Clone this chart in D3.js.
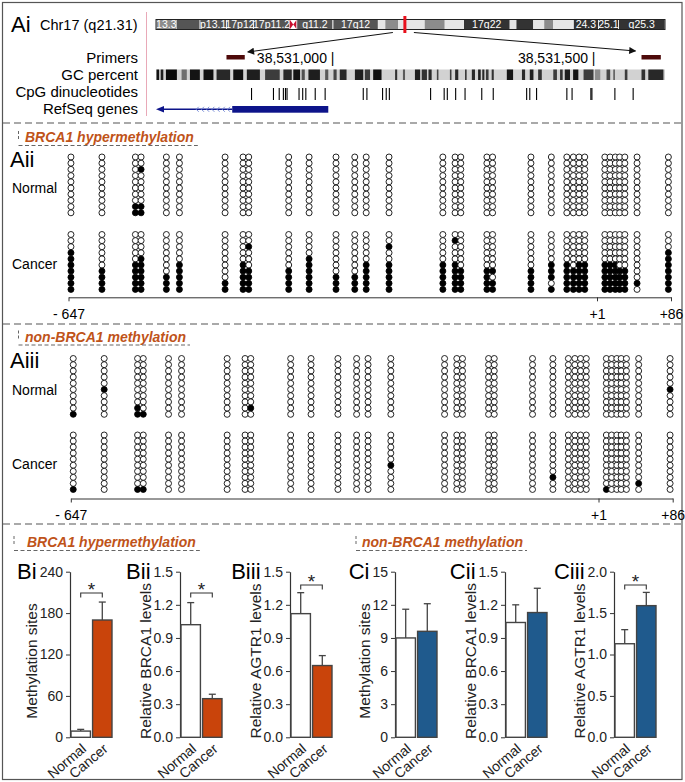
<!DOCTYPE html>
<html><head><meta charset="utf-8">
<script src="https://cdn.jsdelivr.net/npm/d3@7"></script>
<style>
html,body{margin:0;padding:0;background:#fff;}
svg{display:block;}
</style></head>
<body><svg id="chart" width="685" height="782"></svg>
<script>
// ---------------- data ----------------
// Chromosome 17 ideogram (Mb)
const chrBandStarts=[0,3.2,6.8,10.9,15.1,20.7,21.8,27.4,34.4,35.5,37.5,41.6,44.7,47.6,54.8,55.8,58.4,60.1,61.5,64.6,68.5,71.6];
const chrLength=78.8;
const chrBandNames=["13.3","","p13.1","17p12","17p11.2","","q11.2","17q12","","","","","","17q22","","","","","","24.3","25.1","q25.3"];
const chrBandStains=["gpos50","gpos75","gpos75","gpos75","gpos75","acen","gpos75","gpos75","gneg","gpos50","gneg","gpos50","gneg","gpos100","gneg","gpos100","gneg","gpos50","gneg","gpos100","gpos100","gpos100"];
const brca1Mb=38.53;
// Browser tracks: bp offsets from chr17:38,530,000
const trackDomain=[661,1636];
const trackRefs=[1000,1500];
const trackRefLabels=["38,531,000 |","38,531,500 |"];
const primerStarts=[796,1591];
const primerEnds=[831,1628];
const gcStarts=[662,670,680,710,726,752,777,809,835,870,905,924,940,953,985,1001,1013,1042,1061,1077,1119,1134,1157,1170,1183,1199,1224,1234,1253,1266,1278,1286,1293,1304,1333,1362,1377,1393,1422,1435,1444,1460,1480,1502,1524,1537,1559,1591,1604];
const gcEnds=[667,675,701,720,745,771,803,828,860,898,921,937,946,975,991,1007,1026,1058,1071,1093,1123,1138,1167,1180,1189,1202,1227,1240,1256,1272,1283,1290,1298,1308,1345,1368,1384,1400,1429,1440,1454,1470,1499,1512,1531,1540,1564,1598,1633];
const gcShades=[20,30,10,110,20,15,40,15,30,60,40,20,80,30,90,70,40,30,60,15,50,90,30,50,40,70,60,40,50,40,30,40,60,50,20,40,30,50,60,50,30,20,60,140,70,90,60,50,40];
const cpgTrack=[844,886,897,905,909,912,935,942,948,966,985,1058,1065,1095,1102,1108,1187,1213,1219,1235,1253,1285,1307,1371,1377,1390,1448,1458,1494,1496,1540,1575];
const geneStart=661, geneIntronArrowsStart=739, geneThickStart=807, geneEnd=991;
const trackLabels=["Primers","GC percent","CpG dinucleotides","RefSeq genes"];

// Bisulfite sequencing: CpG sites relative to TSS
const cpgPositions=[-644,-606,-565,-558,-527,-511,-455,-433,-426,-377,-352,-319,-296,-282,-254,-188,-173,-166,-134,-127,-80,-55,-36,-28,-21,-14,10,16,22,27,33,47,83];
const siteTicks=[-647,1,86];
const siteTickLabels=["- 647","+1","+86"];
// each string: 10 clones top->bottom, 1 = methylated
const hyperNormal=["0000000000","0000000000","0000000011","0010000011","0000000000","0000000000","0000000000","0000000000","0000000000","0000000000","0000000000","0000000000","0000000000","0000000000","0000000000","0000000000","0000000000","0000000000","0000000000","0000000000","0000000000","0000000000","0000000000","0000000000","0000000000","0000000000","0000000000","0000000000","0000000000","0000000000","0000000000","0000000000","0000000000"];
const hyperCancer=["0001111111","0000001111","0000011111","0000111111","0000000111","0000011111","0000000011","0000011111","0010001111","0000001111","0000111111","0000000111","0000000111","0000011111","0010011111","0000011111","0100011111","0000001111","0000001111","0000001011","0000001111","0000011101","0000011111","0000001111","0000011111","0000011111","0000011111","0000011111","0000011111","0000001111","0000001111","0000000010","0001111111"];
const nonNormal=["0000000001","0000010000","0000000011","0000000001","0000000000","0000000000","0000000000","0000000000","0000000010","0000000000","0000000000","0000000000","0000000000","0000000000","0000000000","0000000000","0000000000","0000000000","0000000000","0000000000","0000000000","0000000000","0000000000","0000000000","0000000000","0000000000","0000000000","0000000000","0000000000","0000000000","0000000000","0000000000","0000010000"];
const nonCancer=["0000000001","0000000000","0000000001","0000000001","0000000000","0000000000","0000000000","0000000000","0000000000","0000000000","0000000000","0000000000","0000000000","0000000000","0000010000","0000000000","0000000000","0000000000","0000000000","0000000000","0000000000","0000000100","0000000000","0000000000","0000000000","0000000000","0000000001","0000000000","0000000000","0000000000","0000000000","0000000010","0000000000"];

// Bar charts
const groups=["Normal","Cancer"];
const BiMean=[9,170], BiErr=[2.5,26];
const BiiMean=[1.02,0.35], BiiErr=[0.20,0.04];
const BiiiMean=[1.12,0.65], BiiiErr=[0.19,0.09];
const CiMean=[9.0,9.6], CiErr=[2.6,2.5];
const CiiMean=[1.04,1.13], CiiErr=[0.16,0.22];
const CiiiMean=[1.13,1.59], CiiiErr=[0.17,0.16];
const ticksSites240=[0,60,120,180,240];
const ticksSites15=[0,3,6,9,12,15];
const ticksRel15=[0,0.3,0.6,0.9,1.2,1.5];
const ticksRel20=[0,0.5,1.0,1.5,2.0];

// ---------------- drawing ----------------
const FONT='"Liberation Sans", Arial, Helvetica, sans-serif';
const ORANGE="#bf5319";
const BARORANGE="#c9440b";
const BARBLUE="#1f5a8d";
const svg=d3.select("#chart").attr("font-family",FONT);

// frame
svg.append("rect").attr("x",2.5).attr("y",2.5).attr("width",679.5).attr("height",777)
  .attr("fill","none").attr("stroke","#555").attr("stroke-width",1.2);
// dashed separators
[123,324,524].forEach(y=>{
  svg.append("line").attr("x1",3).attr("x2",682).attr("y1",y).attr("y2",y)
    .attr("stroke","#555").attr("stroke-width",1.2).attr("stroke-dasharray","7,4");
});

// ----- Ai -----
svg.append("text").attr("x",11).attr("y",32).attr("font-size",22).text("Ai");
svg.append("text").attr("x",40).attr("y",30).attr("font-size",14.5).text("Chr17 (q21.31)");
svg.append("line").attr("x1",146.5).attr("x2",146.5).attr("y1",12).attr("y2",116)
  .attr("stroke","#e9a9b8").attr("stroke-width",1);

const chrX=d3.scaleLinear().domain([0,chrLength]).range([156,665]);
const stainCol={gneg:"#e6e6e6",gpos50:"#8c8c8c",gpos75:"#555",gpos100:"#333",acen:"#fff"};
const chrG=svg.append("g");
const cy0=19.5, cy1=29.5;
chrBandStarts.forEach((s,i)=>{
  const e=i<chrBandStarts.length-1?chrBandStarts[i+1]:chrLength;
  const x0=chrX(s), x1=chrX(e);
  chrG.append("rect").attr("x",x0).attr("y",cy0).attr("width",x1-x0).attr("height",cy1-cy0)
    .attr("fill",stainCol[chrBandStains[i]]).attr("stroke",chrBandNames[i]?"#fff":"none").attr("stroke-width",0.8);
  if(chrBandStains[i]==="acen"){
    chrG.append("path").attr("d",`M${x0},${cy0}L${x1},${cy1}L${x1},${cy0}L${x0},${cy1}Z`).attr("fill","#c8102e");
  }
  if(chrBandNames[i]){
    chrG.append("text").attr("x",(x0+x1)/2).attr("y",cy1-1.5).attr("text-anchor","middle")
      .attr("font-size",10.5).attr("fill","#fff").text(chrBandNames[i]);
  }
});
chrG.append("rect").attr("x",chrX(0)).attr("y",cy0).attr("width",chrX(chrLength)-chrX(0)).attr("height",cy1-cy0)
  .attr("fill","none").attr("stroke","#222").attr("stroke-width",1);
chrG.append("rect").attr("x",chrX(brca1Mb)-1.5).attr("y",16).attr("width",3).attr("height",17).attr("fill","#e8101c");

const tX=d3.scaleLinear().domain(trackDomain).range([156,665]);
// arrow marker
svg.append("defs").append("marker").attr("id","ah").attr("viewBox","0 0 10 10").attr("refX",9).attr("refY",5)
  .attr("markerWidth",9).attr("markerHeight",7).attr("markerUnits","userSpaceOnUse").attr("orient","auto")
  .append("path").attr("d","M0,0L10,5L0,10Z").attr("fill","#111");
svg.append("line").attr("x1",chrX(brca1Mb)-12).attr("y1",32.5).attr("x2",tX(primerEnds[0])+3).attr("y2",52)
  .attr("stroke","#111").attr("stroke-width",1).attr("marker-end","url(#ah)");
svg.append("line").attr("x1",chrX(brca1Mb)+9).attr("y1",32.5).attr("x2",tX(primerStarts[1])-6).attr("y2",51)
  .attr("stroke","#111").attr("stroke-width",1).attr("marker-end","url(#ah)");

// track labels
const labelYs=[63,80,97,113.5];
trackLabels.forEach((t,i)=>{
  svg.append("text").attr("x",138).attr("y",labelYs[i]).attr("text-anchor","end").attr("font-size",15).text(t);
});
// primers
primerStarts.forEach((s,i)=>{
  svg.append("rect").attr("x",tX(s)).attr("y",55).attr("width",tX(primerEnds[i])-tX(s)).attr("height",4.5).attr("fill","#4e0a0a");
});
trackRefs.forEach((r,i)=>{
  svg.append("text").attr("x",tX(r)+1.5).attr("y",63).attr("text-anchor","end").attr("font-size",14).text(trackRefLabels[i]);
});
// GC percent
svg.append("rect").attr("x",tX(trackDomain[0])).attr("y",69.5).attr("width",tX(trackDomain[1])-tX(trackDomain[0])).attr("height",10.5).attr("fill","#d2d2d2");
gcStarts.forEach((s,i)=>{
  const v=gcShades[i];
  svg.append("rect").attr("x",tX(s)).attr("y",69.5).attr("width",tX(gcEnds[i])-tX(s)).attr("height",10.5)
    .attr("fill",d3.rgb(v,v,v));
});
// CpG dinucleotides
cpgTrack.forEach(p=>{
  svg.append("line").attr("x1",tX(p)).attr("x2",tX(p)).attr("y1",88).attr("y2",100).attr("stroke","#000").attr("stroke-width",1.1);
});
// RefSeq gene
const GENE="#0d148a";
svg.append("line").attr("x1",tX(geneStart)+4).attr("x2",tX(geneThickStart)).attr("y1",109.3).attr("y2",109.3).attr("stroke",GENE).attr("stroke-width",1.6);
svg.append("path").attr("d",`M${tX(geneStart)},109.3l8,-3.2l0,6.4Z`).attr("fill",GENE);
d3.range(geneIntronArrowsStart,geneThickStart,10).forEach(p=>{
  svg.append("path").attr("d",`M${tX(p)+2},106.8L${tX(p)-0.5},109.3L${tX(p)+2},111.8`).attr("fill","none").attr("stroke","#6f86d6").attr("stroke-width",0.9);
});
svg.append("rect").attr("x",tX(geneThickStart)).attr("y",106).attr("width",tX(geneEnd)-tX(geneThickStart)).attr("height",6.7).attr("fill",GENE);

// ----- section titles -----
function sectionTitle(text,x,baseline,markX){
  const t=svg.append("text").attr("x",x).attr("y",baseline).attr("font-size",14).attr("font-weight","bold")
    .attr("font-style","italic").attr("fill",ORANGE).text(text);
  const w=t.node().getComputedTextLength();
  svg.append("line").attr("x1",markX).attr("x2",x+w+4).attr("y1",baseline+3.5).attr("y2",baseline+3.5)
    .attr("stroke","#666").attr("stroke-width",1).attr("stroke-dasharray","4,2.5");
  svg.append("line").attr("x1",markX).attr("x2",markX).attr("y1",baseline-11).attr("y2",baseline-1)
    .attr("stroke","#666").attr("stroke-width",1).attr("stroke-dasharray","3,2");
}

// ----- methylation panels -----
function methPanel(cfg){
  sectionTitle(cfg.title,25,cfg.titleY,18.5);
  svg.append("text").attr("x",10).attr("y",cfg.labelY).attr("font-size",22).text(cfg.label);
  svg.append("text").attr("x",12).attr("y",cfg.nY+36).attr("font-size",14).text("Normal");
  svg.append("text").attr("x",12).attr("y",cfg.cY+34).attr("font-size",14).text("Cancer");
  const x=d3.scaleLinear().domain(siteTicks).range(cfg.range);
  const g=svg.append("g");
  [[cfg.normal,cfg.nY,cfg.nStep],[cfg.cancer,cfg.cY,cfg.cStep]].forEach(([data,y0,step])=>{
    data.forEach((col,i)=>{
      col.split("").forEach((c,j)=>{
        g.append("circle").attr("cx",x(cpgPositions[i])).attr("cy",y0+j*step).attr("r",3)
          .attr("fill",c==="1"?"#000":"#fff").attr("stroke","#000").attr("stroke-width",0.85);
      });
    });
  });
  const ax=svg.append("g").attr("transform",`translate(0,${cfg.axisY})`)
    .call(d3.axisBottom(x).tickValues(siteTicks).tickFormat((d,i)=>siteTickLabels[i]).tickSize(4).tickSizeOuter(0).tickPadding(8));
  ax.attr("font-family",FONT).attr("font-size",14).attr("color","#333");
  ax.selectAll("text").attr("fill","#000");
}
methPanel({title:"BRCA1 hypermethylation",titleY:142,label:"Aii",labelY:167,normal:hyperNormal,cancer:hyperCancer,
  nY:157,nStep:6.2,cY:234.5,cStep:6.1,axisY:297.3,range:[68.5,597,671]});
methPanel({title:"non-BRCA1 methylation",titleY:341.5,label:"Aiii",labelY:368,normal:nonNormal,cancer:nonCancer,
  nY:358.5,nStep:6.2,cY:435,cStep:6.05,axisY:498.5,range:[70.8,598.5,672.7]});

// ----- bar charts -----
sectionTitle("BRCA1 hypermethylation",27,547,14);
sectionTitle("non-BRCA1 methylation",362,547,356);

const Y0=737.3, Y1=571.7;
function barPanel(cfg){
  const y=d3.scaleLinear().domain([0,cfg.max]).range([Y0,Y1]);
  const x=d3.scaleBand().domain(groups).range([cfg.ax+1,cfg.ax+42]).paddingInner(0.1).paddingOuter(0);
  const g=svg.append("g");
  const ag=g.append("g").attr("transform",`translate(${cfg.ax},0)`)
    .call(d3.axisLeft(y).tickValues(cfg.ticks).tickFormat(cfg.fmt).tickSize(4).tickSizeOuter(0).tickPadding(3));
  ag.attr("font-family",FONT).attr("font-size",14).attr("color","#333");
  ag.selectAll("text").attr("fill","#222");
  ag.select(".domain").attr("stroke-width",1.2);
  const bb=ag.node().getBBox();
  g.append("text").attr("x",cfg.ax+bb.x-3).attr("y",579).attr("text-anchor","end").attr("font-size",22).text(cfg.label);
  const tx=cfg.ax+bb.x-8, ty=661;
  g.append("text").attr("transform",`translate(${tx},${ty}) rotate(-90)`).attr("text-anchor","middle")
    .attr("dy","0.35em").attr("font-size",15.5).attr("fill","#222").text(cfg.title);
  groups.forEach((k,i)=>{
    const cx=x(k)+x.bandwidth()/2;
    const top=y(cfg.mean[i]+cfg.err[i]);
    g.append("line").attr("x1",cx).attr("x2",cx).attr("y1",y(cfg.mean[i])).attr("y2",top).attr("stroke","#444").attr("stroke-width",1.3);
    g.append("line").attr("x1",cx-3.5).attr("x2",cx+3.5).attr("y1",top).attr("y2",top).attr("stroke","#444").attr("stroke-width",1.3);
    g.append("rect").attr("x",x(k)).attr("y",y(cfg.mean[i])).attr("width",x.bandwidth()).attr("height",Y0-y(cfg.mean[i]))
      .attr("fill",i===0?"#fff":cfg.color).attr("stroke","#444").attr("stroke-width",1.4);
    g.append("text").attr("transform",`translate(${cx+6.5},${Y0+13}) rotate(-40)`).attr("text-anchor","end")
      .attr("font-size",14).attr("fill","#222").text(k);
  });
  if(cfg.sig){
    const a=x(groups[0])+x.bandwidth()/2, b=x(groups[1])+x.bandwidth()/2, by=cfg.sigY;
    g.append("path").attr("d",`M${a},${by+4.5}V${by}H${b}V${by+4.5}`).attr("fill","none").attr("stroke","#333").attr("stroke-width",1.1);
    g.append("text").attr("x",(a+b)/2).attr("y",by+3).attr("text-anchor","middle").attr("font-size",19).attr("fill","#222").text("*");
  }
}
const f0=d3.format("d"), f1=d3.format(".1f");
barPanel({ax:70,max:240,ticks:ticksSites240,fmt:f0,mean:BiMean,err:BiErr,color:BARORANGE,label:"Bi",title:"Methylation sites",sig:true,sigY:593});
barPanel({ax:180,max:1.5,ticks:ticksRel15,fmt:f1,mean:BiiMean,err:BiiErr,color:BARORANGE,label:"Bii",title:"Relative BRCA1 levels",sig:true,sigY:593});
barPanel({ax:290,max:1.5,ticks:ticksRel15,fmt:f1,mean:BiiiMean,err:BiiiErr,color:BARORANGE,label:"Biii",title:"Relative AGTR1 levels",sig:true,sigY:585});
barPanel({ax:395,max:15,ticks:ticksSites15,fmt:f0,mean:CiMean,err:CiErr,color:BARBLUE,label:"Ci",title:"Methylation sites",sig:false});
barPanel({ax:505,max:1.5,ticks:ticksRel15,fmt:f1,mean:CiiMean,err:CiiErr,color:BARBLUE,label:"Cii",title:"Relative BRCA1 levels",sig:false});
barPanel({ax:614,max:2.0,ticks:ticksRel20,fmt:f1,mean:CiiiMean,err:CiiiErr,color:BARBLUE,label:"Ciii",title:"Relative AGTR1 levels",sig:true,sigY:585});
</script>
</body></html>
